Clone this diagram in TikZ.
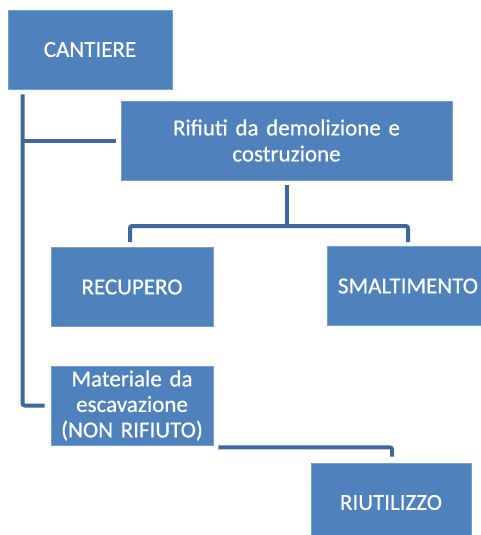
\documentclass[tikz,border=0pt]{standalone}
\usepackage{fontspec}
\setmainfont{Carlito}
\newfontfamily\boxfont{Carlito}[BoldFont=Carlito, BoldFeatures={FakeBold=0.5}]
\usetikzlibrary{calc}
\definecolor{boxblue}{RGB}{79,129,189}
\definecolor{boxedge}{RGB}{120,158,207}
\definecolor{linkblue}{RGB}{64,104,158}
\tikzset{
  box/.style={draw=boxedge, line width=0.8pt, fill=boxblue, text=white, inner sep=0pt,
    minimum height=79pt, align=center, font=\boxfont\bfseries\fontsize{23}{26}\selectfont},
  link/.style={draw=linkblue, line width=4pt, rounded corners=2pt}
}
\begin{document}
\begin{tikzpicture}[x=1pt,y=-1pt]
\clip (0,0) rectangle (481,535);
\fill[white] (0,0) rectangle (481,535);
\node[box, minimum width=164pt] (cantiere) at (90,49.5) {CANTIERE};
\node[box, minimum width=331pt, text width=300pt] (rifiuti) at (286.5,140.5) {Rifiuti da demolizione e\\costruzione};
\node[box, minimum width=162pt] (recupero) at (132,287) {RECUPERO};
\node[box, minimum width=162pt] (smalt) at (408,286) {SMALTIMENTO};
\node[box, minimum width=162pt, text width=160pt, font=\boxfont\bfseries\fontsize{23}{25.5}\selectfont] (materiale) at (132,405.5) {Materiale da\\escavazione\\(NON RIFIUTO)};
\node[box, minimum width=160pt] (riut) at (391,502.5) {RIUTILIZZO};
% trunk from CANTIERE
\coordinate (trunktop) at ($(cantiere.south west)+(15,5)$);
\draw[link] (trunktop) |- ($(materiale.west)+(-6,0)$);
\draw[link] (trunktop |- rifiuti.west) -- ($(rifiuti.west)+(-5,0)$);
% Rifiuti to RECUPERO / SMALTIMENTO
\coordinate (bus) at ($(rifiuti.south)+(0,47)$);
\draw[link] ($(rifiuti.south)+(0,5)$) -- (bus);
\draw[link] ($(recupero.north)+(-2,-5)$) |- ($(smalt.north)+(0,-20)$) -- ($(smalt.north)+(0,-4)$);
% Materiale to RIUTILIZZO
\draw[link] ($(materiale.south east)+(5,2)$) -| ($(riut.north)+(1,-6)$);
\end{tikzpicture}
\end{document}
